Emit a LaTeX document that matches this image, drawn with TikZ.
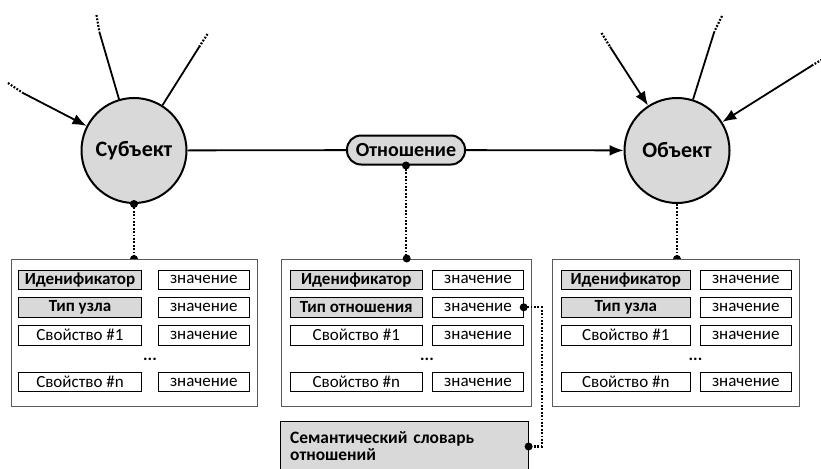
\documentclass[tikz,border=0pt]{standalone}
\usepackage{fontspec}
\setmainfont{Carlito}
\usetikzlibrary{arrows.meta}
\definecolor{gfill}{RGB}{217,217,217}
\definecolor{obox}{RGB}{90,90,90}
\newcommand\ptable[7]{%
  \node[cellg,minimum width=#3pt] (#1l1) at (#2,279.7) {Иденификатор};
  \node[cellw,minimum width=#5pt] (#1v1) at (#4,279.7) {значение};
  \node[cellg,minimum width=#3pt] (#1l2) at (#2,307.3) {#6};
  \node[cellw,minimum width=#5pt] (#1v2) at (#4,307.3) {значение};
  \node[cellw,minimum width=#3pt] (#1l3) at (#2,335.3) {Свойство \#1};
  \node[cellw,minimum width=#5pt] (#1v3) at (#4,335.3) {значение};
  \node[ell] (#1e) at (#7,359) {...};
  \node[cellw,minimum width=#3pt] (#1l4) at (#2,382) {Свойство \#n};
  \node[cellw,minimum width=#5pt] (#1v4) at (#4,382) {значение};
}
\begin{document}
\begin{tikzpicture}[x=1pt,y=-1pt,
  ent/.style={circle,draw,line width=2pt,fill=gfill,minimum size=105pt,inner sep=0pt,font=\fontsize{22}{26}\selectfont\bfseries},
  relbox/.style={draw,line width=2pt,fill=gfill,rounded corners=14pt,minimum width=118pt,minimum height=29pt,inner sep=0pt,font=\fontsize{20}{24}\selectfont\bfseries},
  conn/.style={line width=1.8pt},
  arr/.style={line width=1.8pt,-{Latex[length=14pt,width=11pt]}},
  dotl/.style={line width=2.2pt,dash pattern=on 1.8pt off 1.6pt},
  outer/.style={draw=obox,line width=1pt,fill=white,inner sep=0pt},
  cellg/.style={draw,line width=0.8pt,fill=gfill,minimum height=19.5pt,inner sep=0pt,font=\fontsize{17}{20}\selectfont\bfseries},
  cellw/.style={draw,line width=0.8pt,fill=white,minimum height=19.5pt,inner sep=0pt,font=\fontsize{17}{20}\selectfont},
  ell/.style={inner sep=0pt,font=\fontsize{17}{20}\selectfont\bfseries},
  dictbox/.style={draw,line width=0.8pt,fill=gfill,minimum width=248pt,minimum height=50pt,inner sep=0pt,text width=228pt,align=left,font=\fontsize{17.4}{16.8}\selectfont\bfseries},
  jdot/.style={fill=black}
]
\useasboundingbox (0,0) rectangle (821,468);

% main nodes
\node[ent] (S) at (134,150.5) {Субъект};
\node[ent] (O) at (677,150.5) {Объект};
\node[relbox] (R) at (406,150) {Отношение};

% dangling connectors at subject
\coordinate (s1a) at (8,83);   \coordinate (s1b) at (23,93);
\coordinate (s2a) at (96.5,15); \coordinate (s2b) at (99.3,31.7);
\coordinate (s3a) at (207.5,34); \coordinate (s3b) at (199.3,46.7);
\draw[dotl] (s1a) -- (s1b);
\draw[arr] (s1b) -- (S);
\draw[dotl] (s2a) -- (s2b);
\draw[conn] (s2b) -- (S);
\draw[dotl] (s3a) -- (s3b);
\draw[conn] (s3b) -- (S);

% dangling connectors at object
\coordinate (o1a) at (601.5,33); \coordinate (o1b) at (610,46.7);
\coordinate (o2a) at (722,16);   \coordinate (o2b) at (714.3,31.7);
\coordinate (o3a) at (822,59.5); \coordinate (o3b) at (812,65.5);
\draw[dotl] (o1a) -- (o1b);
\draw[arr] (o1b) -- (O);
\draw[dotl] (o2a) -- (o2b);
\draw[conn] (o2b) -- (O);
\draw[dotl] (o3a) -- (o3b);
\draw[arr] (o3b) -- (O);

% relation line
\draw[conn] (S) -- (R);
\draw[arr] (R) -- (O);

% coordinates for table tops
\coordinate (t1top) at (134,259);
\coordinate (t2top) at (406,259);
\coordinate (t3top) at (677,259);
\draw[dotl] (S.south) -- (t1top);
\draw[dotl] (R.south) -- (t2top);
\draw[dotl] (O.south) -- (t3top);
\fill[jdot] (S.south) circle (4pt);
\fill[jdot] (R.south) circle (4pt);
\fill[jdot] (t1top) circle (4pt);
\fill[jdot] (t3top) circle (4pt);

% tables
\node[outer,minimum width=246pt,minimum height=147pt] (T1) at (134,332.5) {};
\node[outer,minimum width=250pt,minimum height=147pt] (T2) at (406.7,332.5) {};
\node[outer,minimum width=247.3pt,minimum height=147pt] (T3) at (676.3,332.5) {};
\fill[jdot] (T2.north) circle (4pt);

\ptable{a}{80}{123.4}{203.8}{91}{Тип узла}{150}
\ptable{b}{356.3}{132.7}{478}{90.6}{Тип отношения}{427}
\ptable{c}{625.8}{128.3}{745.8}{91.7}{Тип узла}{695.5}

% semantic dictionary
\node[dictbox] (D) at (404.2,446.5) {Семантический словарь\\отношений};
\coordinate (k) at (541.7,307.3);
\draw[dotl] (bv2.east) -- (k) |- (D.east);
\fill[jdot] (bv2.east) circle (4pt);
\fill[jdot] (D.east) circle (4pt);
\end{tikzpicture}
\end{document}
